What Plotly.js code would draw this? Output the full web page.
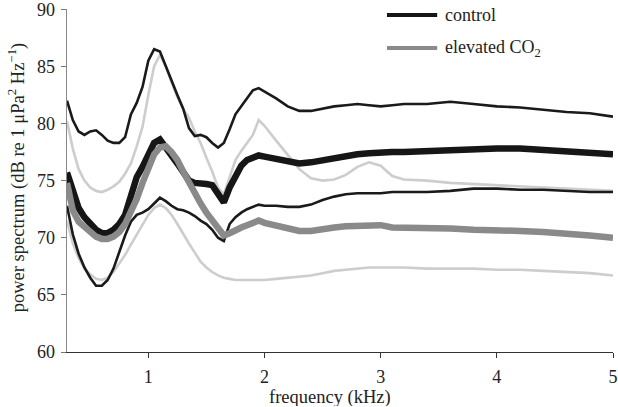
<!DOCTYPE html>
<html>
<head>
<meta charset="utf-8">
<script src="https://cdn.plot.ly/plotly-3.0.1.min.js"></script>
<style>
  html, body { margin: 0; padding: 0; background: #fff; }
  #myDiv { width: 618px; height: 407px; }
</style>
</head>
<body>
<div id="myDiv"></div>
<script>
var freq = [0.3, 0.35, 0.4, 0.45, 0.5, 0.55, 0.6, 0.65, 0.7, 0.75, 0.8, 0.85, 0.9, 0.95,
  1.0, 1.05, 1.1, 1.15, 1.2, 1.25, 1.3, 1.35, 1.4, 1.45, 1.5, 1.55, 1.6, 1.65, 1.7, 1.75,
  1.8, 1.85, 1.9, 1.95, 2.0, 2.1, 2.2, 2.3, 2.4, 2.5, 2.6, 2.7, 2.8, 2.9, 3.0, 3.1, 3.2,
  3.4, 3.6, 3.8, 4.0, 4.2, 4.4, 4.6, 4.8, 5.0];

// control: mean and the upper / lower bounds
var controlUpper = [82.0, 80.3, 79.3, 79.0, 79.3, 79.4, 79.0, 78.5, 78.3, 78.3, 78.8, 80.8, 81.8, 83.2,
  85.5, 86.5, 86.3, 85.0, 83.8, 82.5, 81.3, 79.6, 78.9, 79.0, 78.8, 78.3, 77.9, 78.3, 79.5, 80.8,
  81.5, 82.2, 82.9, 83.1, 82.8, 82.2, 81.5, 81.1, 81.1, 81.3, 81.5, 81.6, 81.7, 81.6, 81.5, 81.6, 81.7,
  81.7, 81.9, 81.7, 81.5, 81.4, 81.2, 81.0, 80.9, 80.6];
var controlMean = [75.7, 74.0, 72.6, 71.8, 71.2, 70.7, 70.4, 70.4, 70.7, 71.2, 72.0, 73.6, 75.3, 76.2,
  77.2, 78.3, 78.6, 78.0, 77.2, 76.5, 75.8, 75.0, 74.8, 74.8, 74.7, 74.6, 73.8, 73.1, 74.4, 75.5,
  76.3, 76.8, 77.0, 77.2, 77.1, 76.9, 76.6, 76.5, 76.6, 76.8, 77.0, 77.2, 77.3, 77.4, 77.5, 77.5, 77.5,
  77.6, 77.7, 77.8, 77.8, 77.8, 77.7, 77.6, 77.5, 77.3];
var controlLower = [72.8, 70.3, 68.6, 67.4, 66.5, 65.8, 65.8, 66.3, 67.3, 68.7, 70.2, 71.4, 72.0, 72.2,
  72.5, 73.0, 73.5, 73.2, 72.8, 72.5, 72.4, 72.2, 71.9, 71.5, 71.2, 70.7, 70.0, 69.7, 71.2, 71.8,
  72.2, 72.5, 72.7, 72.9, 72.8, 72.8, 72.7, 72.7, 72.9, 73.3, 73.6, 73.8, 73.9, 73.9, 73.9, 74.0, 74.0,
  74.0, 74.1, 74.3, 74.3, 74.2, 74.2, 74.1, 74.0, 74.0];

// elevated CO2: mean and the upper / lower bounds
var co2Upper = [80.2, 77.8, 76.0, 75.0, 74.4, 74.1, 74.0, 74.2, 74.5, 74.9, 75.6, 76.5, 78.0, 79.7,
  82.5, 85.0, 86.0, 85.0, 83.6, 82.3, 81.3, 80.5, 79.3, 78.3, 77.0, 75.8, 74.4, 73.8, 75.3, 76.8,
  77.6, 78.3, 79.0, 80.3, 79.8, 78.5, 77.2, 76.0, 75.2, 75.0, 75.1, 75.5, 76.2, 76.6, 76.3, 75.4, 75.1,
  75.0, 74.8, 74.7, 74.6, 74.5, 74.4, 74.3, 74.2, 74.1];
var co2Mean = [74.8, 72.4, 71.4, 70.9, 70.5, 70.1, 69.9, 69.9, 70.1, 70.5, 71.2, 72.2, 73.4, 74.8,
  76.2, 77.3, 77.9, 78.0, 77.5, 76.8, 75.8, 74.8, 73.9, 73.0, 72.2, 71.5, 70.8, 70.2, 70.4, 70.7,
  70.9, 71.1, 71.3, 71.5, 71.3, 71.1, 70.8, 70.6, 70.6, 70.8, 70.9, 71.0, 71.0, 71.1, 71.1, 70.9, 70.9,
  70.8, 70.8, 70.7, 70.7, 70.6, 70.5, 70.4, 70.2, 70.0];
var co2Lower = [71.5, 69.5, 68.2, 67.3, 66.8, 66.4, 66.3, 66.5, 67.0, 67.7, 68.5, 69.4, 70.3, 71.2,
  72.0, 72.6, 72.9, 72.6, 72.0, 71.2, 70.3, 69.5, 68.7, 67.9, 67.4, 67.0, 66.7, 66.5, 66.4, 66.3,
  66.3, 66.3, 66.3, 66.3, 66.3, 66.4, 66.5, 66.6, 66.7, 66.9, 67.1, 67.2, 67.3, 67.4, 67.4, 67.4, 67.4,
  67.3, 67.3, 67.3, 67.2, 67.2, 67.1, 67.0, 66.9, 66.7];

var legendNames = ['control', 'elevated CO<sub>2</sub>'];

var serif = 'Liberation Serif, Times New Roman, serif';
var black = '#161616';
var grey = '#8a8a8a';

function band(y, color) {
  return {x: freq, y: y, type: 'scatter', mode: 'lines', showlegend: false,
    hoverinfo: 'skip', line: {color: color, width: 2.6}};
}

function mean(y, color, name) {
  return {x: freq, y: y, type: 'scatter', mode: 'lines', name: name,
    showlegend: false, line: {color: color, width: 6.5}};
}

var data = [
  band(co2Upper, '#cdcdcd'),
  band(co2Lower, '#cdcdcd'),
  band(controlUpper, '#1a1a1a'),
  band(controlLower, '#1a1a1a'),
  mean(controlMean, black, legendNames[0]),
  mean(co2Mean, grey, legendNames[1])
];

// key drawn by hand, top right of the plot
var keyRows = [{y: 0.9825, color: black}, {y: 0.886, color: grey}];
var shapes = [];
var annotations = [];
keyRows.forEach(function (row, i) {
  shapes.push({type: 'line', xref: 'paper', yref: 'paper',
    x0: 0.586, x1: 0.678, y0: row.y, y1: row.y,
    line: {color: row.color, width: 4}});
  annotations.push({text: legendNames[i], showarrow: false,
    xref: 'paper', yref: 'paper', x: 0.688, y: row.y,
    xanchor: 'left', yanchor: 'middle',
    font: {family: serif, size: 18, color: '#222'}});
});

annotations.push({
  text: 'frequency (kHz)', showarrow: false,
  xref: 'paper', yref: 'paper', x: 0.482, y: -0.131,
  xanchor: 'center', yanchor: 'middle', height: 18,
  font: {family: serif, size: 18.5, color: '#222'}
}, {
  text: 'power spectrum (dB re 1 μPa<sup>2</sup> Hz<sup>−1</sup>)', showarrow: false,
  xref: 'paper', yref: 'paper', x: -0.093, y: 0.51, textangle: -90,
  xanchor: 'center', yanchor: 'middle',
  font: {family: serif, size: 18.5, color: '#222'}
});

var layout = {
  width: 618,
  height: 407,
  margin: {l: 67, r: 5, t: 9, b: 55},
  paper_bgcolor: '#fff',
  plot_bgcolor: '#fff',
  font: {family: serif, size: 16, color: '#222'},
  showlegend: false,
  xaxis: {
    range: [0.3, 5],
    tickvals: [1, 2, 3, 4, 5],
    ticks: 'outside', ticklen: 5, tickcolor: '#333',
    showline: true, linecolor: '#333', linewidth: 1,
    showgrid: false, zeroline: false,
    tickfont: {family: serif, size: 18},
    ticklabelstandoff: 3
  },
  yaxis: {
    range: [60, 90.02],
    tickvals: [60, 65, 70, 75, 80, 85, 90],
    ticks: 'outside', ticklen: 5, tickcolor: '#777',
    showline: true, linecolor: '#888', linewidth: 1.5,
    showgrid: false, zeroline: false,
    tickfont: {family: serif, size: 18},
    ticklabelstandoff: 2,
    ticklabeloverflow: 'allow'
  },
  shapes: shapes,
  annotations: annotations
};

Plotly.newPlot('myDiv', data, layout, {displayModeBar: false, staticPlot: true});
</script>
</body>
</html>
